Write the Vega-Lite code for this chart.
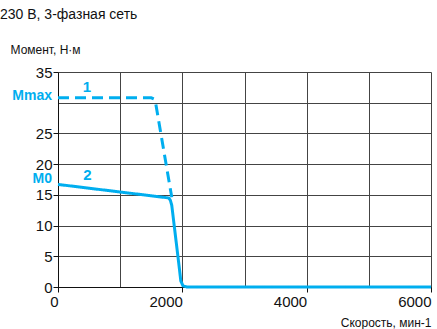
{
  "$schema": "https://vega.github.io/schema/vega-lite/v6.json",
  "width": 373,
  "height": 215,
  "autosize": "none",
  "padding": {"left": 58, "top": 72, "right": 6, "bottom": 42},
  "background": "white",
  "title": {
    "text": "230 В, 3-фазная сеть",
    "anchor": "start",
    "frame": "group",
    "orient": "top",
    "dx": -58,
    "offset": 21,
    "font": "Liberation Sans",
    "fontSize": 14,
    "fontWeight": "normal",
    "color": "#111"
  },
  "config": {
    "view": {"stroke": null},
    "font": "Liberation Sans"
  },
  "encoding": {
    "x": {
      "field": "speed", "type": "quantitative",
      "scale": {"domain": [0, 6000], "nice": false},
      "axis": {
        "values": [0, 1000, 2000, 3000, 4000, 5000, 6000],
        "labelExpr": "datum.value % 2000 == 0 ? datum.label : ''",
        "format": "d",
        "labelFontSize": 15,
        "labelColor": "#111",
        "labelPadding": 2,
        "labelAlign": "right",
        "labelDx": 5,
        "labelOverlap": false,
        "labelBound": false,
        "labelFlush": false,
        "domainColor": "#111",
        "tickColor": "#111",
        "tickOpacity": {"condition": {"test": "datum.value % 2000 == 0", "value": 1}, "value": 0},
        "tickSize": 5,
        "gridColor": "#444",
        "gridOpacity": 1,
        "gridWidth": 1,
        "title": "Скорость, мин-1",
        "titleFont": "Liberation Sans",
        "titleFontSize": 12,
        "titleFontWeight": "normal",
        "titleColor": "#111",
        "titleAlign": "right",
        "titleAnchor": "end",
        "titleX": 373,
        "titleY": 39,
        "titleBaseline": "alphabetic"
      }
    },
    "y": {
      "field": "torque", "type": "quantitative",
      "scale": {"domain": [0, 35], "nice": false},
      "axis": {
        "values": [0, 5, 10, 15, 20, 25, 30, 35],
        "labelExpr": "datum.value == 30 ? '' : datum.label",
        "labelFontSize": 15,
        "labelColor": "#111",
        "labelPadding": 1,
        "labelOverlap": false,
        "labelBound": false,
        "labelFlush": false,
        "domainColor": "#111",
        "tickColor": "#111",
        "tickOpacity": {"condition": {"test": "datum.value == 30", "value": 0}, "value": 1},
        "tickSize": 5,
        "gridColor": "#444",
        "gridOpacity": 1,
        "gridWidth": 1,
        "title": "Момент, Н·м",
        "titleFont": "Liberation Sans",
        "titleFontSize": 12,
        "titleFontWeight": "normal",
        "titleColor": "#111",
        "titleAngle": 0,
        "titleAlign": "left",
        "titleX": -48,
        "titleY": -19,
        "titleBaseline": "alphabetic"
      }
    }
  },
  "layer": [
    {
      "data": {"values": [
        {"speed": 0, "torque": 16.7, "curve": "2", "o": 0},
        {"speed": 1780, "torque": 14.5, "curve": "2", "o": 1},
        {"speed": 1808, "torque": 14.1, "curve": "2", "o": 2},
        {"speed": 1830, "torque": 13.3, "curve": "2", "o": 3},
        {"speed": 1955, "torque": 2.8, "curve": "2", "o": 4},
        {"speed": 1975, "torque": 1.0, "curve": "2", "o": 5},
        {"speed": 2010, "torque": 0.2, "curve": "2", "o": 6},
        {"speed": 2070, "torque": 0, "curve": "2", "o": 7},
        {"speed": 6000, "torque": 0, "curve": "2", "o": 8},
        {"speed": 0, "torque": 30.8, "curve": "1", "o": 0},
        {"speed": 1500, "torque": 30.8, "curve": "1", "o": 1},
        {"speed": 1545, "torque": 30.6, "curve": "1", "o": 2},
        {"speed": 1570, "torque": 30.0, "curve": "1", "o": 3},
        {"speed": 1830, "torque": 14.6, "curve": "1", "o": 4}
      ]},
      "mark": {"type": "line", "strokeWidth": 3, "color": "#00aeef"},
      "encoding": {
        "order": {"field": "o"},
        "detail": {"field": "curve"},
        "strokeDash": {
          "field": "curve", "type": "nominal",
          "scale": {"domain": ["1", "2"], "range": [[11, 6], [1, 0]]},
          "legend": null
        }
      }
    },
    {
      "data": {"values": [
        {"speed": 0, "torque": 31.1, "t": "Mmax"},
        {"speed": 0, "torque": 17.6, "t": "M0"}
      ]},
      "mark": {"type": "text", "align": "right", "baseline": "middle", "dx": -6, "fontSize": 14, "fontWeight": "bold", "color": "#00aeef"},
      "encoding": {
        "text": {"field": "t"}
      }
    },
    {
      "data": {"values": [
        {"speed": 467, "torque": 32.6, "t": "1"},
        {"speed": 475, "torque": 18.2, "t": "2"}
      ]},
      "mark": {"type": "text", "align": "center", "baseline": "middle", "fontSize": 15, "fontWeight": "bold", "color": "#00aeef"},
      "encoding": {
        "text": {"field": "t"}
      }
    }
  ]
}
